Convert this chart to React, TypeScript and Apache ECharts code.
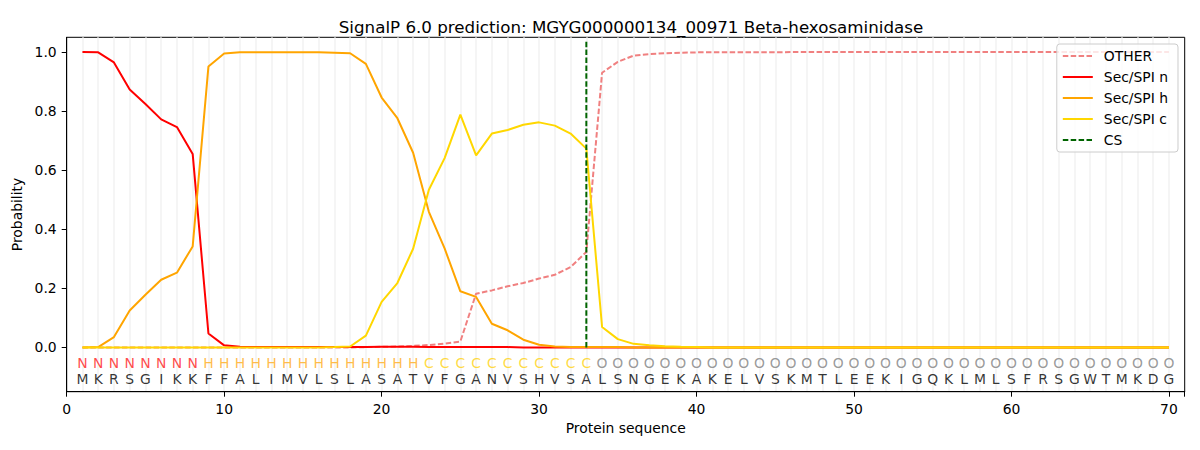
import React, { useEffect, useRef } from 'react';
import * as echarts from 'echarts';

const FONT = 'DejaVu Sans';

const sequence = 'MKRSGIKKFFALIMVLSLASATVFGANVSHVSALSNGEKAKELVSKMTLEEKIGQKLMLSFRSGWTMKDG'.split('');
const regions = 'NNNNNNNNHHHHHHHHHHHHHHCCCCCCCCCCCOOOOOOOOOOOOOOOOOOOOOOOOOOOOOOOOOOOOO'.split('');

const zeros = (n: number) => new Array(n).fill(0);

const other = [
    0, 0, 0, 0, 0, 0, 0, 0, 0, 0,
    0, 0, 0, 0, 0, 0, 0, 0, 0.001, 0.002,
    0.003, 0.005, 0.008, 0.013, 0.02, 0.182, 0.193, 0.207, 0.218, 0.233,
    0.246, 0.272, 0.323, 0.93, 0.967, 0.988, 0.993, 0.996, 0.998, 0.999,
    0.999, 0.999, 0.999, 0.999, 0.999, 1, 1, 1, 1, 1,
    1, 1, 1, 1, 1, 1, 1, 1, 1, 1,
    1, 1, 1, 1, 1, 1, 1, 1, 1, 1
];

const secN = [
    1.0, 0.999, 0.965, 0.873, 0.824, 0.772, 0.746, 0.655, 0.047, 0.007,
    0.002, 0.001, 0.001, 0.001, 0.001, 0.001, 0.001, 0.001, 0.001, 0.002,
    0.002, 0.002, 0.001, 0.001, 0.001, 0.001, 0.001, 0.001, 0, 0,
    ...zeros(40)
];

const secH = [
    0, 0.001, 0.035, 0.125, 0.178, 0.229, 0.253, 0.342, 0.951, 0.995,
    0.999, 0.999, 0.999, 0.999, 0.999, 0.999, 0.998, 0.996, 0.96, 0.846,
    0.776, 0.659, 0.459, 0.335, 0.19, 0.171, 0.08, 0.058, 0.026, 0.009,
    0.003, 0.001, 0.001, 0.001, 0.001, 0, 0, 0, 0, 0,
    ...zeros(30)
];

const secC = [
    0, 0, 0, 0, 0, 0, 0, 0, 0, 0,
    0, 0, 0, 0, 0, 0, 0.001, 0.003, 0.04, 0.154,
    0.218, 0.334, 0.534, 0.641, 0.788, 0.65, 0.724, 0.736, 0.754, 0.762,
    0.751, 0.724, 0.673, 0.069, 0.028, 0.012, 0.007, 0.004, 0.002, 0.001,
    ...zeros(30)
];

const cleavageSite = 33;
const yTicks = [0, 0.2, 0.4, 0.6, 0.8, 1.0];

const regionColors: Record<string, string> = {
    N: '#ff1a1a',
    H: '#ffab1a',
    C: '#ffd20f',
    O: '#808080'
};

const toPoints = (vals: number[]) => vals.map((v, i) => [i + 1, v]);

const App: React.FC = () => {
    const chartRef = useRef<HTMLDivElement>(null);

    useEffect(() => {
        if (!chartRef.current) return;
        const chart = echarts.init(chartRef.current, null, { renderer: 'svg' });

        const lineSeries = (name: string, color: string, vals: number[], dashed = false) => ({
            name,
            type: 'line',
            xAxisIndex: 0,
            symbol: 'none',
            color,
            lineStyle: { color, width: 2, type: dashed ? [5.5, 2.4] : 'solid' },
            data: toPoints(vals),
            silent: true
        });

        const option: any = {
            animation: false,
            title: {
                text: 'SignalP 6.0 prediction: MGYG000000134_00971 Beta-hexosaminidase',
                left: 626,
                top: 13,
                textAlign: 'center',
                textStyle: { fontFamily: FONT, fontSize: 16.7, fontWeight: 'normal', color: '#000' }
            },
            legend: {
                data: ['OTHER', 'Sec/SPI n', 'Sec/SPI h', 'Sec/SPI c', 'CS'],
                orient: 'vertical',
                right: 22,
                top: 44,
                itemWidth: 30,
                itemHeight: 14,
                itemGap: 7,
                padding: [5, 10, 5, 5],
                borderColor: '#cccccc',
                borderWidth: 1,
                borderRadius: 3,
                backgroundColor: 'rgba(255,255,255,0.8)',
                itemStyle: { opacity: 0 },
                textStyle: { fontFamily: FONT, fontSize: 13.9, color: '#000', padding: [0, 0, 0, 6] }
            },
            grid: {
                left: 66.7,
                right: 15.3,
                top: 37.3,
                bottom: 58.3,
                show: true,
                borderColor: '#000',
                borderWidth: 1,
                backgroundColor: 'transparent'
            },
            xAxis: [
                {
                    type: 'value',
                    min: 0,
                    max: 71,
                    interval: 10,
                    name: 'Protein sequence',
                    nameLocation: 'middle',
                    nameGap: 28,
                    nameTextStyle: { fontFamily: FONT, fontSize: 13.9, color: '#000' },
                    axisLine: { show: true, onZero: false, lineStyle: { color: '#000', width: 1 } },
                    axisTick: { show: true, length: 5, lineStyle: { color: '#000' } },
                    axisLabel: {
                        margin: 10,
                        fontFamily: FONT,
                        fontSize: 13.9,
                        color: '#000',
                        formatter: (v: number) => (v % 10 === 0 ? String(v) : '')
                    },
                    splitLine: { show: false }
                },
                {
                    type: 'value',
                    min: 0,
                    max: 71,
                    interval: 1,
                    axisLine: { show: false },
                    axisTick: { show: false },
                    axisLabel: { show: false },
                    splitLine: {
                        show: true,
                        showMinLine: false,
                        showMaxLine: false,
                        lineStyle: { color: '#f2f2f2', width: 1.5 }
                    }
                }
            ],
            yAxis: {
                type: 'value',
                min: -0.15,
                max: 1.05,
                name: 'Probability',
                nameLocation: 'middle',
                nameGap: 38,
                nameTextStyle: { fontFamily: FONT, fontSize: 13.9, color: '#000' },
                axisLine: { show: true, onZero: false, lineStyle: { color: '#000', width: 1 } },
                axisTick: { show: true, length: 5, customValues: yTicks, lineStyle: { color: '#000' } },
                axisLabel: {
                    margin: 10,
                    fontFamily: FONT,
                    fontSize: 13.9,
                    color: '#000',
                    customValues: yTicks,
                    formatter: (v: number) => v.toFixed(1)
                },
                splitLine: { show: false }
            },
            series: [
                lineSeries('OTHER', '#f08080', other, true),
                lineSeries('Sec/SPI n', '#ff0000', secN),
                lineSeries('Sec/SPI h', '#ffa500', secH),
                lineSeries('Sec/SPI c', '#ffd700', secC),
                {
                    name: 'CS',
                    type: 'line',
                    xAxisIndex: 0,
                    symbol: 'none',
                    color: '#006400',
                    lineStyle: { color: '#006400', width: 2, type: [5.5, 2.4] },
                    data: [[cleavageSite, 0], [cleavageSite, 1.035]],
                    silent: true
                },
                {
                    type: 'scatter',
                    xAxisIndex: 0,
                    symbolSize: 1,
                    itemStyle: { color: 'transparent' },
                    silent: true,
                    data: regions.map((r, i) => ({
                        value: [i + 1, -0.052],
                        label: {
                            show: true,
                            position: 'inside',
                            formatter: r,
                            color: regionColors[r],
                            fontFamily: FONT,
                            fontSize: 13.9
                        }
                    }))
                },
                {
                    type: 'scatter',
                    xAxisIndex: 0,
                    symbolSize: 1,
                    itemStyle: { color: 'transparent' },
                    silent: true,
                    data: sequence.map((aa, i) => ({
                        value: [i + 1, -0.106],
                        label: {
                            show: true,
                            position: 'inside',
                            formatter: aa,
                            color: '#000',
                            fontFamily: FONT,
                            fontSize: 13.9
                        }
                    }))
                }
            ]
        };

        chart.setOption(option);

        return () => {
            chart.dispose();
        };
    }, []);

    return (
        <div
            ref={chartRef}
            style={{ position: 'fixed', left: 0, top: 0, width: 1200, height: 450, background: '#fff' }}
        />
    );
};

export default App;
